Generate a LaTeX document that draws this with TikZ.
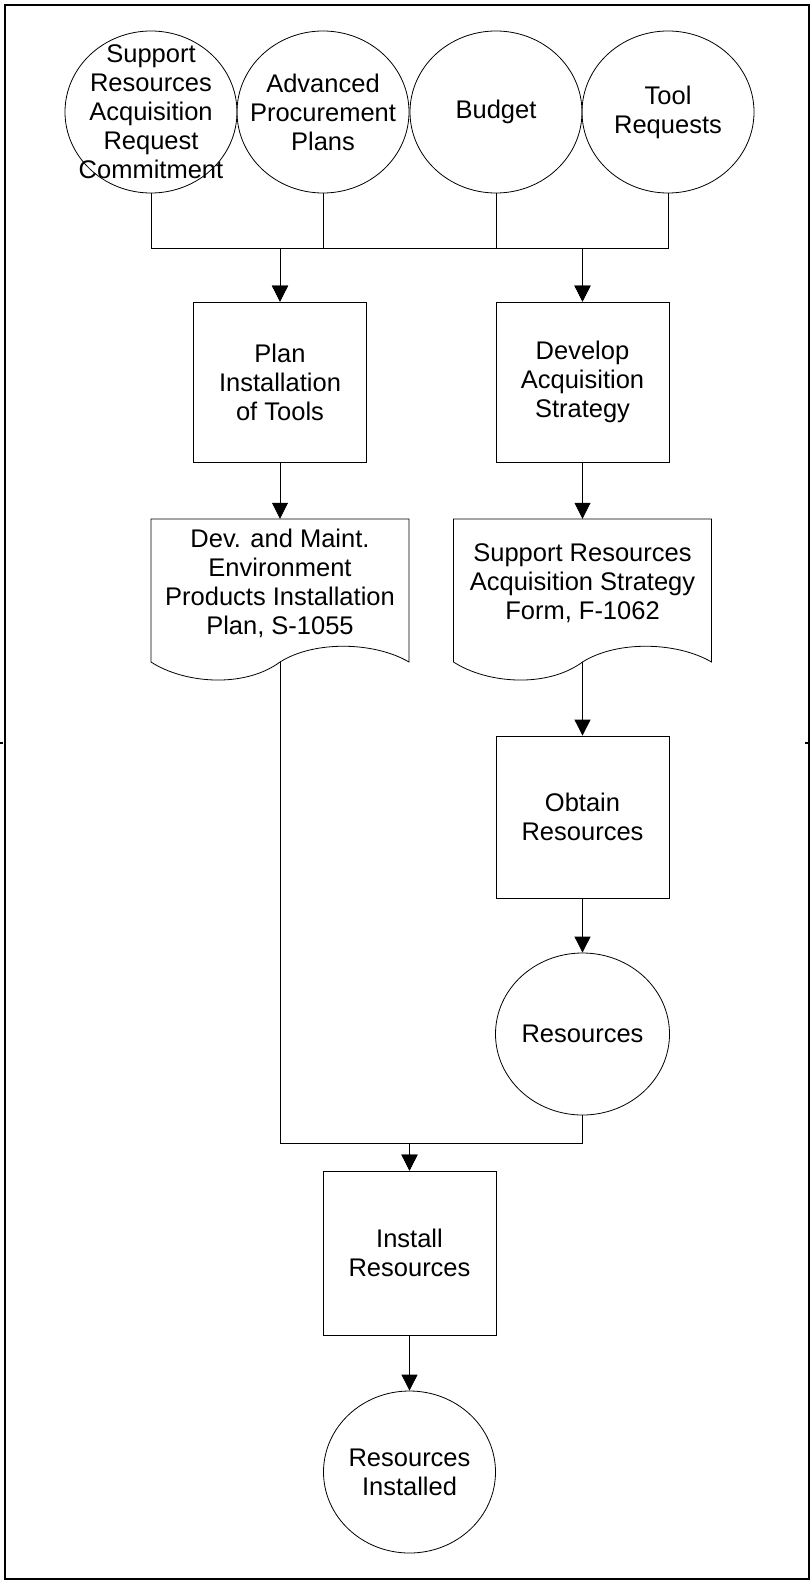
\documentclass[tikz,border=0pt]{standalone}
\usepackage{fontspec}
\setmainfont{Liberation Sans}
\usetikzlibrary{arrows.meta,shapes.geometric}
\begin{document}
\begin{tikzpicture}[x=1pt,y=-1pt,
  every node/.style={font=\fontsize{25.5}{29}\selectfont, align=center, inner sep=0pt},
  oval/.style={draw, ellipse, minimum width=172pt, minimum height=162pt, line width=0.8pt},
  ovaltext/.style={label={[align=center, font=\fontsize{25.5}{29}\selectfont]center:#1}},
  procbox/.style={draw, rectangle, minimum width=173pt, minimum height=160pt, line width=0.8pt},
  docbox/.style={rectangle, minimum width=258pt, minimum height=122pt},
  line/.style={line width=0.8pt},
  arr/.style={line width=0.8pt, -{Triangle[width=16pt,length=16pt]}}]
\useasboundingbox (0,0) rectangle (811,1581);
\draw[line width=2pt] (5,5) rectangle (809,1579);
\draw[line width=1.5pt] (0,743) -- (3,743);
\draw[line width=1.5pt] (805,743) -- (809,743);

% top inputs
\node[oval, ovaltext={Support\\Resources\\Acquisition\\Request\\Commitment}] (c1) at (151,112) {};
\node[oval, ovaltext={Advanced\\Procurement\\Plans}] (c2) at (323,112) {};
\node[oval, ovaltext={Budget}] (c3) at (496,112) {};
\node[oval, ovaltext={Tool\\Requests}] (c4) at (668,112) {};

% processes
\node[procbox] (plan) at (280,382) {Plan\\Installation\\of Tools};
\node[procbox] (dev) at (582.5,382) {Develop\\Acquisition\\Strategy};

% documents
\node[docbox] (doc1) at (280,580) {};
\node at (280,583) {Dev. and Maint.\\Environment\\Products Installation\\Plan, S-1055};
\node[docbox] (doc2) at (582.5,580) {};
\node at (582.5,583) {Support Resources\\Acquisition Strategy\\Form, F-1062};
\begin{scope}[shift={(280,580)}]
\draw[line] (-129,-61) -- (129,-61) -- (129,82) .. controls (95,62) and (35,60) .. (0,82)
  .. controls (-35,108) and (-95,104) .. (-129,82) -- cycle;
\end{scope}
\begin{scope}[shift={(582.5,580)}]
\draw[line] (-129,-61) -- (129,-61) -- (129,82) .. controls (95,62) and (35,60) .. (0,82)
  .. controls (-35,108) and (-95,104) .. (-129,82) -- cycle;
\end{scope}
\coordinate (d1b) at ([yshift=-21pt]doc1.south);
\coordinate (d2b) at ([yshift=-21pt]doc2.south);

\node[procbox, minimum height=162pt] (obtain) at (582.5,817) {Obtain\\Resources};
\node[oval, minimum width=174pt, ovaltext={Resources}] (res) at (582.5,1034) {};
\node[procbox, minimum height=164pt] (install) at (409.5,1253) {Install\\Resources};
\node[oval, ovaltext={Resources\\Installed}] (done) at (409.5,1472) {};

% connectors
\draw[arr] (c1.south) |- ([yshift=53pt]plan.north) -- (plan.north);
\draw[arr] (c3.south) |- ([yshift=53pt]plan.north) -- (plan.north);
\draw[arr] (c2.south) |- ([yshift=53pt]dev.north) -- (dev.north);
\draw[arr] (c4.south) |- ([yshift=53pt]dev.north) -- (dev.north);
\draw[arr] (plan.south) -- (doc1.north);
\draw[arr] (dev.south) -- (doc2.north);
\draw[arr] (d2b) -- (obtain.north);
\draw[arr] (obtain.south) -- (res.north);
\draw[arr] (d1b) |- ([yshift=27pt]install.north) -- (install.north);
\draw[arr] (res.south) |- ([yshift=27pt]install.north) -- (install.north);
\draw[arr] (install.south) -- (done.north);
\end{tikzpicture}
\end{document}
